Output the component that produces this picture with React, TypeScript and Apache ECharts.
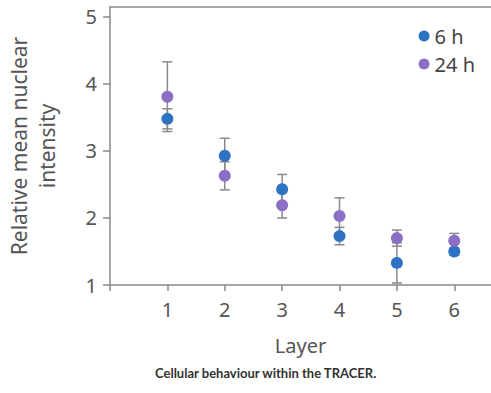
import React, { useEffect, useRef } from "react";
import * as echarts from "echarts";

const layers = [1, 2, 3, 4, 5, 6];
const mean6h = [3.48, 2.93, 2.43, 1.73, 1.33, 1.5];
const err6h = [0.15, 0.26, 0.22, 0.13, 0.3, 0.05];
const mean24h = [3.81, 2.63, 2.19, 2.03, 1.7, 1.66];
const err24h = [0.52, 0.21, 0.19, 0.27, 0.12, 0.11];
const yTicks = [1, 2, 3, 4, 5];
const xTickValues = [0, 1, 2, 3, 4, 5, 6];

const BLUE = "#2d72c3";
const PURPLE = "#8b6fc4";
const GREY = "#8a8a8a";
const FONT = "Noto Sans";

function errorSeries(name: string, means: number[], errs: number[]) {
  return {
    type: "custom",
    name,
    silent: true,
    z: 1,
    data: layers.map((x, i) => [x, means[i], means[i] - errs[i], means[i] + errs[i]]),
    encode: { x: 0, y: [2, 3] },
    renderItem: (params: any, api: any) => {
      const x = api.value(0);
      const lo = api.coord([x, api.value(2)]);
      const hi = api.coord([x, api.value(3)]);
      const w = 5;
      const style = { stroke: GREY, lineWidth: 1.5 };
      return {
        type: "group",
        children: [
          { type: "line", shape: { x1: lo[0], y1: lo[1], x2: hi[0], y2: hi[1] }, style },
          { type: "line", shape: { x1: lo[0] - w, y1: lo[1], x2: lo[0] + w, y2: lo[1] }, style },
          { type: "line", shape: { x1: hi[0] - w, y1: hi[1], x2: hi[0] + w, y2: hi[1] }, style },
        ],
      };
    },
  };
}

export default function App() {
  const ref = useRef<HTMLDivElement>(null);
  useEffect(() => {
    if (!ref.current) return;
    const chart = echarts.init(ref.current, undefined, { renderer: "svg" });
    chart.setOption({
      animation: false,
      backgroundColor: "#ffffff",
      grid: { left: 110, right: 0, top: 7, bottom: 108, outerBoundsMode: "none", containLabel: false },
      legend: {
        orient: "vertical",
        right: 11,
        top: 21,
        itemWidth: 11,
        itemHeight: 11,
        itemGap: 8,
        icon: "circle",
        textStyle: { fontFamily: FONT, fontSize: 20, color: "#444" },
        data: ["6 h", "24 h"],
      },
      xAxis: [
        {
          type: "value",
          min: 0,
          max: 6.64,
          name: "Layer",
          nameLocation: "middle",
          nameGap: 50,
          nameTextStyle: { fontFamily: FONT, fontSize: 20, color: "#555" },
          splitLine: { show: false },
          axisLine: { show: true, lineStyle: { color: GREY, width: 1.5 } },
          axisTick: { show: true, length: 6, customValues: xTickValues, lineStyle: { color: GREY, width: 1.5 } },
          axisLabel: { customValues: layers, margin: 14, fontFamily: FONT, fontSize: 20, color: "#555" },
        },
        {
          type: "value",
          position: "top",
          min: 0,
          max: 6.64,
          splitLine: { show: false },
          axisLine: { show: true, lineStyle: { color: GREY, width: 1.5 } },
          axisTick: { show: false },
          axisLabel: { show: false },
        },
      ],
      yAxis: {
        type: "value",
        min: 1,
        max: 5.149,
        name: "Relative mean nuclear\nintensity",
        nameLocation: "middle",
        nameGap: 49,
        nameTextStyle: { fontFamily: FONT, fontSize: 21, color: "#555", lineHeight: 28 },
        splitLine: { show: false },
        axisLine: { show: true, lineStyle: { color: GREY, width: 1.5 } },
        axisTick: { show: true, length: 7, customValues: yTicks, lineStyle: { color: GREY, width: 1.5 } },
        axisLabel: { customValues: yTicks, margin: 13, fontFamily: FONT, fontSize: 20, color: "#555" },
      },
      graphic: [
        {
          type: "text",
          left: 155,
          top: 366,
          style: {
            text: "Cellular behaviour within the TRACER.",
            fontFamily: "Lato",
            fontWeight: "bold",
            fontSize: 13,
            fill: "#333",
          },
        },
      ],
      series: [
        errorSeries("err6", mean6h, err6h),
        errorSeries("err24", mean24h, err24h),
        {
          type: "scatter",
          name: "6 h",
          z: 3,
          symbolSize: 12,
          itemStyle: { color: BLUE, opacity: 1 },
          data: layers.map((x, i) => [x, mean6h[i]]),
        },
        {
          type: "scatter",
          name: "24 h",
          z: 4,
          symbolSize: 12,
          itemStyle: { color: PURPLE, opacity: 1 },
          data: layers.map((x, i) => [x, mean24h[i]]),
        },
      ],
    });
    return () => chart.dispose();
  }, []);
  return <div ref={ref} style={{ position: "fixed", left: 0, top: 0, width: 491, height: 393 }} />;
}
